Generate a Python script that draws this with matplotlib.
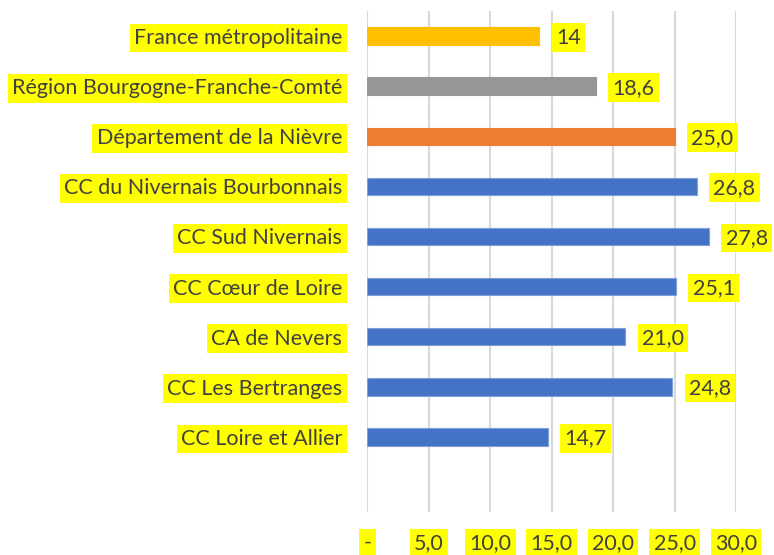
import numpy as np
import matplotlib.pyplot as plt

# Territories, top to bottom (last slot is left empty)
territoires = [
    "France métropolitaine",
    "Région Bourgogne-Franche-Comté",
    "Département de la Nièvre",
    "CC du Nivernais Bourbonnais",
    "CC Sud Nivernais",
    "CC Cœur de Loire",
    "CA de Nevers",
    "CC Les Bertranges",
    "CC Loire et Allier",
]
valeurs = [14.0, 18.6, 25.0, 26.8, 27.8, 25.1, 21.0, 24.8, 14.7]
etiquettes = ["14", "18,6", "25,0", "26,8", "27,8", "25,1", "21,0", "24,8", "14,7"]
couleurs = ["#FFC000", "#969696", "#ED7D31"] + ["#4472C4"] * 6
ticks_x = [0, 5, 10, 15, 20, 25, 30]
ticks_lbl = ["-", "5,0", "10,0", "15,0", "20,0", "25,0", "30,0"]

plt.rcParams["font.family"] = ["Lato", "DejaVu Sans"]
texte = "#404040"
jaune = "#FFFF00"
taille = 15.5

fig = plt.figure(figsize=(7.74, 5.55), dpi=100)
ax = fig.add_axes([0.4745, 0.0775, 0.4765, 0.9025])

pos = np.arange(len(territoires))
ax.barh(pos, valeurs, height=0.35, color=couleurs,
        edgecolor=[c if c != "#4472C4" else "#7F9FD8" for c in couleurs],
        linewidth=0.8, zorder=3)

for y, v, lbl in zip(pos, valeurs, etiquettes):
    ax.annotate(lbl, (v, y), xytext=(12, -1), textcoords="offset points",
                ha="left", va="center", fontsize=taille, color=texte,
                bbox=dict(boxstyle="square,pad=0.2", fc=jaune, ec="none"))

ax.set_ylim(len(territoires) + 0.5, -0.5)
ax.set_xlim(0, 30)
ax.set_yticks(pos)
ax.set_yticklabels(territoires, fontsize=taille, color=texte)
ax.set_xticks(ticks_x)
ax.set_xticklabels(ticks_lbl, fontsize=taille, color=texte)
for t in ax.get_yticklabels() + ax.get_xticklabels():
    t.set_bbox(dict(boxstyle="square,pad=0.2", fc=jaune, ec="none"))

ax.tick_params(axis="y", length=0, pad=18)
ax.tick_params(axis="x", length=0, pad=15)
ax.grid(axis="x", color="#D9D9D9", linewidth=1.5, zorder=0)
ax.set_axisbelow(True)
for s in ax.spines.values():
    s.set_visible(False)

fig.savefig("out.png", dpi=100)
